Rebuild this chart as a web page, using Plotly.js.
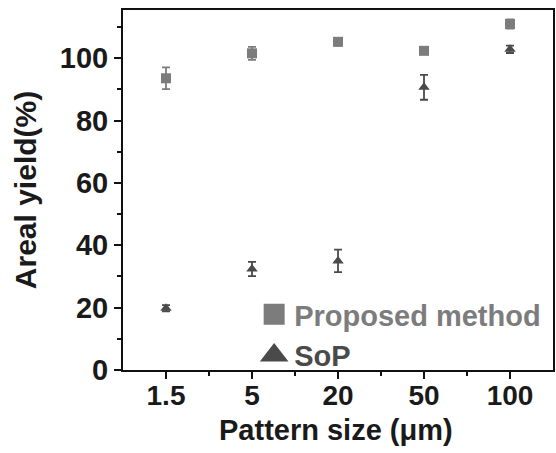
<!DOCTYPE html>
<html><head><meta charset="utf-8">
<script src="https://cdn.plot.ly/plotly-3.0.1.min.js"></script>
<style>html,body{margin:0;padding:0;background:#fff;}#chart{width:556px;height:453px;}</style>
</head><body><div id="chart"></div>
<script>
const categories = ['1.5', '5', '20', '50', '100'];
const proposedYield = [93.6, 101.6, 105.3, 102.4, 111.0];
const proposedErr = [3.5, 2.1, 1.2, 1.0, 1.5];
const sopYield = [19.8, 32.4, 35.0, 90.7, 102.9];
const sopErr = [1.0, 2.3, 3.6, 4.0, 1.2];
const yTickVals = [0, 20, 40, 60, 80, 100];
const seriesNames = ['Proposed method', 'SoP'];
const xTitle = 'Pattern size (\u03bcm)';
const yTitle = 'Areal yield(%)';

const xIdx = categories.map((c, i) => i);
const proposedColor = '#7c7c7c';
const sopColor = '#4a4a4a';

function legendEntry(name, color, symbol) {
  return {
    x: [null], y: [null], type: 'scatter', mode: 'markers',
    name: '<span style="color:' + color + '">' + name + '</span>',
    marker: {symbol: symbol, size: 16, color: color, line: {width: 5, color: color}},
    hoverinfo: 'skip'
  };
}

const traces = [
  {
    x: xIdx, y: proposedYield, type: 'scatter', mode: 'markers', showlegend: false,
    marker: {symbol: 'square', size: 10, color: proposedColor},
    error_y: {type: 'data', array: proposedErr, visible: true, color: proposedColor, thickness: 1.8, width: 4}
  },
  {
    x: xIdx, y: sopYield, type: 'scatter', mode: 'markers', showlegend: false,
    marker: {symbol: 'triangle-up', size: 10, color: sopColor},
    error_y: {type: 'data', array: sopErr, visible: true, color: sopColor, thickness: 1.8, width: 4}
  },
  legendEntry(seriesNames[0], proposedColor, 'square'),
  legendEntry(seriesNames[1], sopColor, 'triangle-up')
];

const font = {family: 'Liberation Sans, Arial, sans-serif', color: '#1a1a1a'};
const layout = {
  width: 556, height: 453,
  margin: {l: 123, r: 3, t: 10, b: 83},
  paper_bgcolor: '#fff', plot_bgcolor: '#fff',
  font: font,
  showlegend: true,
  legend: {
    x: 0.305, y: 0.225, xanchor: 'left', yanchor: 'top',
    bgcolor: 'rgba(0,0,0,0)', borderwidth: 0,
    font: {family: font.family, size: 29, weight: 'bold'},
    tracegroupgap: 0, itemwidth: 30
  },
  xaxis: {
    range: [-0.5, 4.5], tickmode: 'array', tickvals: xIdx, ticktext: categories,
    showgrid: false, zeroline: false,
    showline: true, linecolor: '#111', linewidth: 2, mirror: true,
    ticks: 'outside', ticklen: 7, tickwidth: 2, tickcolor: '#111',
    ticklabelstandoff: -8,
    tickfont: {family: font.family, size: 28, weight: 'bold', color: '#1a1a1a'},
    minor: {tickmode: 'array', tickvals: [0.5, 1.5, 2.5, 3.5], ticks: 'outside', ticklen: 4, tickwidth: 2, tickcolor: '#111'}
  },
  yaxis: {
    range: [0, 115.5], tickmode: 'array', tickvals: yTickVals,
    showgrid: false, zeroline: false,
    showline: true, linecolor: '#111', linewidth: 2, mirror: true,
    ticks: 'outside', ticklen: 7, tickwidth: 2, tickcolor: '#111',
    tickfont: {family: font.family, size: 29, weight: 'bold', color: '#1a1a1a'},
    minor: {tickmode: 'array', tickvals: [10, 30, 50, 70, 90, 110], ticks: 'outside', ticklen: 4, tickwidth: 2, tickcolor: '#111'},
    title: {text: yTitle, standoff: 14, font: {family: font.family, size: 30, weight: 'bold', color: '#1a1a1a'}}
  },
  annotations: [{
    text: xTitle, xref: 'paper', yref: 'paper', x: 0.495, y: -0.168,
    xanchor: 'center', yanchor: 'middle', showarrow: false,
    font: {family: font.family, size: 29, weight: 'bold', color: '#1a1a1a'}
  }]
};

Plotly.newPlot('chart', traces, layout, {displayModeBar: false, staticPlot: true});
</script></body></html>
